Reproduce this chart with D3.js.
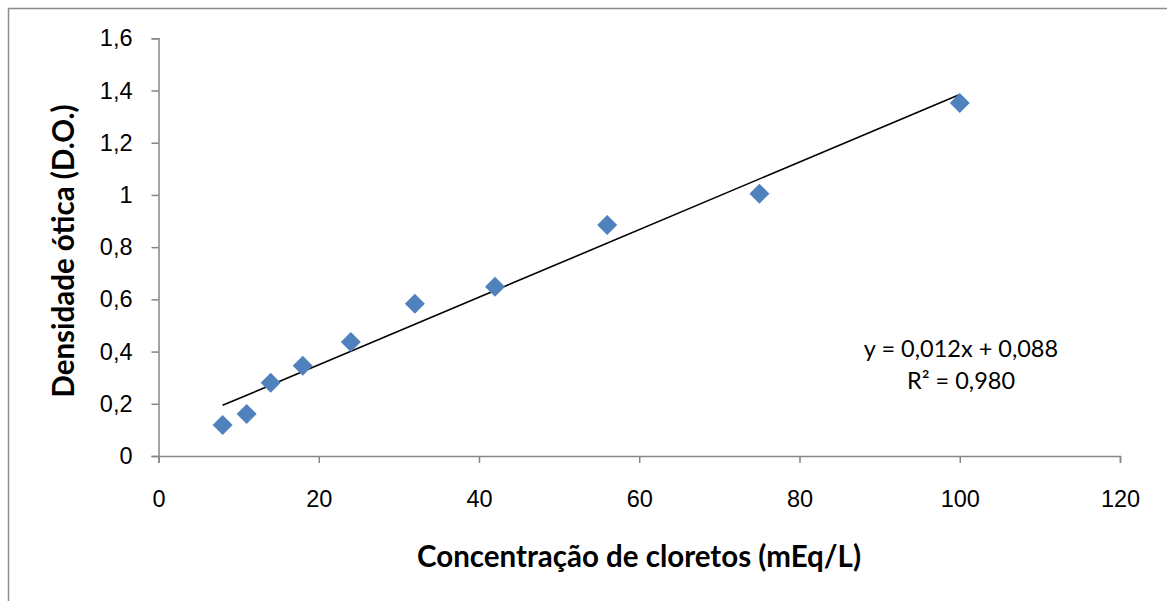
<!DOCTYPE html>
<html lang="pt">
<head>
  <meta charset="UTF-8">
  <title>Densidade ótica x concentração de cloretos</title>
  <script src="https://d3js.org/d3.v7.min.js"></script>
  <style>
    body { margin: 0; background: #fff; }
    svg { display: block; font-family: Lato, "Open Sans", sans-serif; }
    .tick text { font-size: 23.5px; fill: #000; }
    .axis path, .axis line { stroke: #868686; stroke-width: 1.5px; }
    .title { font-size: 29.5px; font-weight: bold; fill: #000; }
    .eq { font-size: 23.5px; fill: #000; }
  </style>
</head>
<body>
  <div id="chart"></div>

  <script>
    // dados
    const concentracao = [8, 11, 14, 18, 24, 32, 42, 56, 75, 100];
    const densidade = [0.119, 0.161, 0.281, 0.346, 0.437, 0.583, 0.648, 0.885, 1.005, 1.352];
    const linhaX = [8, 100];          // extremos da linha de tendência
    const linhaY = [0.194, 1.385];
    const xTicks = [0, 20, 40, 60, 80, 100, 120];
    const yTicks = [0, 0.2, 0.4, 0.6, 0.8, 1, 1.2, 1.4, 1.6];
    const equacao = ["y = 0,012x + 0,088", "R² = 0,980"];

    const width = 1167, height = 601;
    const fmt = d => String(d).replace(".", ",");

    const svg = d3.select("#chart").append("svg")
      .attr("width", width)
      .attr("height", height);

    // moldura do gráfico
    svg.append("rect")
      .attr("x", 8.5).attr("y", 8.5)
      .attr("width", 1170).attr("height", 610)
      .attr("fill", "none")
      .attr("stroke", "#8c8c8c")
      .attr("stroke-width", 1.5);

    const x = d3.scaleLinear().domain([0, 120]).range([158.5, 1120]);
    const y = d3.scaleLinear().domain([0, 1.6]).range([456, 38.3]);

    svg.append("g")
      .attr("class", "axis")
      .attr("transform", "translate(0,456)")
      .call(d3.axisBottom(x).tickValues(xTicks).tickSize(7).tickSizeOuter(7).tickPadding(0).tickFormat(fmt))
      .call(g => g.selectAll("text").attr("y", 51).attr("dy", null));

    svg.append("g")
      .attr("class", "axis")
      .attr("transform", "translate(158.5,0)")
      .call(d3.axisLeft(y).tickValues(yTicks).tickSize(7).tickSizeOuter(7).tickPadding(19).tickFormat(fmt));

    // linha de tendência
    svg.append("line")
      .attr("x1", x(linhaX[0])).attr("y1", y(linhaY[0]))
      .attr("x2", x(linhaX[1])).attr("y2", y(linhaY[1]))
      .attr("stroke", "#000")
      .attr("stroke-width", 1.6);

    // pontos (losangos)
    const losango = d3.symbol().type(d3.symbolSquare).size(200);
    svg.selectAll(".ponto")
      .data(concentracao)
      .enter().append("path")
      .attr("class", "ponto")
      .attr("d", losango)
      .attr("transform", (d, i) => `translate(${x(d)},${y(densidade[i])}) rotate(45)`)
      .attr("fill", "#4f81bd");

    // equação
    svg.selectAll(".eq")
      .data(equacao)
      .enter().append("text")
      .attr("class", "eq")
      .attr("x", 961)
      .attr("y", (d, i) => 357 + i * 31.5)
      .attr("text-anchor", "middle")
      .text(d => d);

    // títulos dos eixos
    svg.append("text")
      .attr("class", "title")
      .attr("x", 639)
      .attr("y", 566.5)
      .attr("text-anchor", "middle")
      .text("Concentração de cloretos (mEq/L)");

    svg.append("text")
      .attr("class", "title")
      .attr("transform", "translate(73.5,251) rotate(-90)")
      .attr("text-anchor", "middle")
      .text("Densidade ótica (D.O.)");
  </script>
</body>
</html>
